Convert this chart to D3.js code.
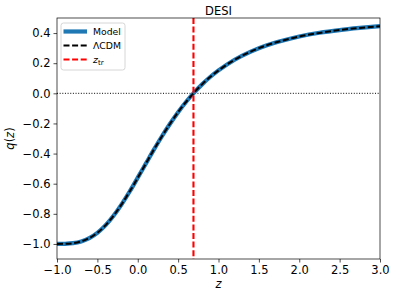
<!DOCTYPE html>
<html>
<head>
<meta charset="utf-8">
<script src="https://cdn.jsdelivr.net/npm/d3@7"></script>
<style>
  body { margin: 0; background: #fff; }
  svg { display: block; font-family: "DejaVu Sans", sans-serif; }
</style>
</head>
<body>
<svg id="chart"></svg>
<script>
// values
const zValues = [-1.0, -0.9, -0.8, -0.7, -0.6, -0.5, -0.4, -0.3, -0.2, -0.1, 0.0, 0.1, 0.2, 0.3, 0.4, 0.5, 0.6, 0.7, 0.8, 0.9, 1.0, 1.2, 1.4, 1.6, 1.8, 2.0, 2.25, 2.5, 2.75, 3.0];
const qModel = [-1.000, -0.999, -0.995, -0.983, -0.961, -0.926, -0.877, -0.813, -0.737, -0.652, -0.560, -0.467, -0.374, -0.285, -0.202, -0.125, -0.056, 0.006, 0.061, 0.110, 0.152, 0.223, 0.277, 0.319, 0.351, 0.377, 0.402, 0.420, 0.434, 0.446];
const qLCDM = [-1.000, -0.999, -0.995, -0.983, -0.961, -0.926, -0.877, -0.813, -0.737, -0.652, -0.561, -0.467, -0.374, -0.285, -0.202, -0.125, -0.056, 0.006, 0.061, 0.110, 0.152, 0.223, 0.277, 0.319, 0.351, 0.377, 0.401, 0.420, 0.434, 0.445];
const zTransition = 0.69;
const xTicks = [-1.0, -0.5, 0.0, 0.5, 1.0, 1.5, 2.0, 2.5, 3.0];
const yTicks = [-1.0, -0.8, -0.6, -0.4, -0.2, 0.0, 0.2, 0.4];
const legendLabels = ["Model", "ΛCDM", "z_tr"];

const width = 395;
const height = 295;
const margin = {left: 57, right: 15, top: 18, bottom: 36};

let svg = d3.select("#chart")
    .attr("width", width)
    .attr("height", height);

let scX = d3.scaleLinear()
    .domain([-1, 3])
    .range([margin.left, width - margin.right]);
let scY = d3.scaleLinear()
    .domain([-1.1, 0.5])
    .range([height - margin.bottom, margin.top]);

// axes
let axisX = d3.axisBottom(scX).tickValues(xTicks).tickSize(3.5).tickPadding(3)
    .tickFormat(d => d3.format(".1f")(d).replace("-", "\u2212"));
let axisY = d3.axisLeft(scY).tickValues(yTicks).tickSize(3.5).tickPadding(3)
    .tickFormat(d => d3.format(".1f")(d).replace("-", "\u2212"));

let gx = svg.append("g")
    .attr("transform", `translate(0, ${height - margin.bottom})`)
    .call(axisX);
let gy = svg.append("g")
    .attr("transform", `translate(${margin.left}, 0)`)
    .call(axisY);
[gx, gy].forEach(g => {
    g.select(".domain").remove();
    g.selectAll("line").attr("stroke", "#000").attr("stroke-width", 0.7);
    g.selectAll("text").attr("fill", "#000").style("font-size", "11.5px").style("font-family", "DejaVu Sans");
});

// curves
let clip = svg.append("clipPath").attr("id", "clip")
    .append("rect")
    .attr("x", margin.left).attr("y", margin.top)
    .attr("width", width - margin.left - margin.right)
    .attr("height", height - margin.top - margin.bottom);

let plot = svg.append("g").attr("clip-path", "url(#clip)");

let line = (ys) => d3.line()
    .x((d, i) => scX(zValues[i]))
    .y((d, i) => scY(ys[i]))
    .curve(d3.curveMonotoneX)(ys);

// zero line
plot.append("line")
    .attr("x1", scX(-1)).attr("x2", scX(3))
    .attr("y1", scY(0)).attr("y2", scY(0))
    .attr("stroke", "#000").attr("stroke-width", 1)
    .attr("stroke-dasharray", "1,1.65");

plot.append("path")
    .attr("d", line(qModel))
    .attr("fill", "none")
    .attr("stroke", "#1f77b4")
    .attr("stroke-width", 4.2);

plot.append("path")
    .attr("d", line(qLCDM))
    .attr("fill", "none")
    .attr("stroke", "#000")
    .attr("stroke-width", 2)
    .attr("stroke-dasharray", "6,2.6");

plot.append("line")
    .attr("x1", scX(zTransition)).attr("x2", scX(zTransition))
    .attr("y1", scY(0.5)).attr("y2", scY(-1.1))
    .attr("stroke", "#ff0000").attr("stroke-width", 2.1)
    .attr("stroke-dasharray", "6,2.6");

// frame
svg.append("rect")
    .attr("x", margin.left).attr("y", margin.top)
    .attr("width", width - margin.left - margin.right)
    .attr("height", height - margin.top - margin.bottom)
    .attr("fill", "none")
    .attr("stroke", "#000")
    .attr("stroke-width", 0.7);

// title and labels
svg.append("text")
    .attr("x", (margin.left + width - margin.right) / 2)
    .attr("y", 14.5)
    .attr("text-anchor", "middle")
    .style("font-size", "11.5px")
    .text("DESI");

svg.append("text")
    .attr("x", (margin.left + width - margin.right) / 2)
    .attr("y", 288)
    .attr("text-anchor", "middle")
    .style("font-size", "11.5px")
    .style("font-style", "italic")
    .text("z");

svg.append("text")
    .attr("transform", `translate(14, ${(margin.top + height - margin.bottom) / 2}) rotate(-90)`)
    .attr("text-anchor", "middle")
    .style("font-size", "11.5px")
    .html('<tspan font-style="italic">q</tspan>(<tspan font-style="italic">z</tspan>)');

// legend
let legend = svg.append("g");
legend.append("rect")
    .attr("x", 61).attr("y", 23)
    .attr("width", 64).attr("height", 47)
    .attr("rx", 2.5)
    .attr("fill", "#fff").attr("fill-opacity", 0.8)
    .attr("stroke", "#ccc").attr("stroke-width", 0.8);

let legendStyles = [
    {color: "#1f77b4", w: 4.2, dash: null, y: 31.5},
    {color: "#000", w: 2, dash: "6,2.6", y: 45.5},
    {color: "#ff0000", w: 2.1, dash: "6,2.6", y: 59.5}
];
legendLabels.forEach((label, i) => {
    let s = legendStyles[i];
    legend.append("line")
        .attr("x1", 63.5).attr("x2", 87)
        .attr("y1", s.y).attr("y2", s.y)
        .attr("stroke", s.color).attr("stroke-width", s.w)
        .attr("stroke-dasharray", s.dash);
    let t = legend.append("text")
        .attr("x", 93).attr("y", s.y + 3.3)
        .style("font-size", "9.3px");
    if (label === "z_tr") {
        t.append("tspan").style("font-style", "italic").text("z");
        t.append("tspan").attr("dy", 2).style("font-size", "7px").text("tr");
    } else {
        t.text(label);
    }
});
</script>
</body>
</html>
